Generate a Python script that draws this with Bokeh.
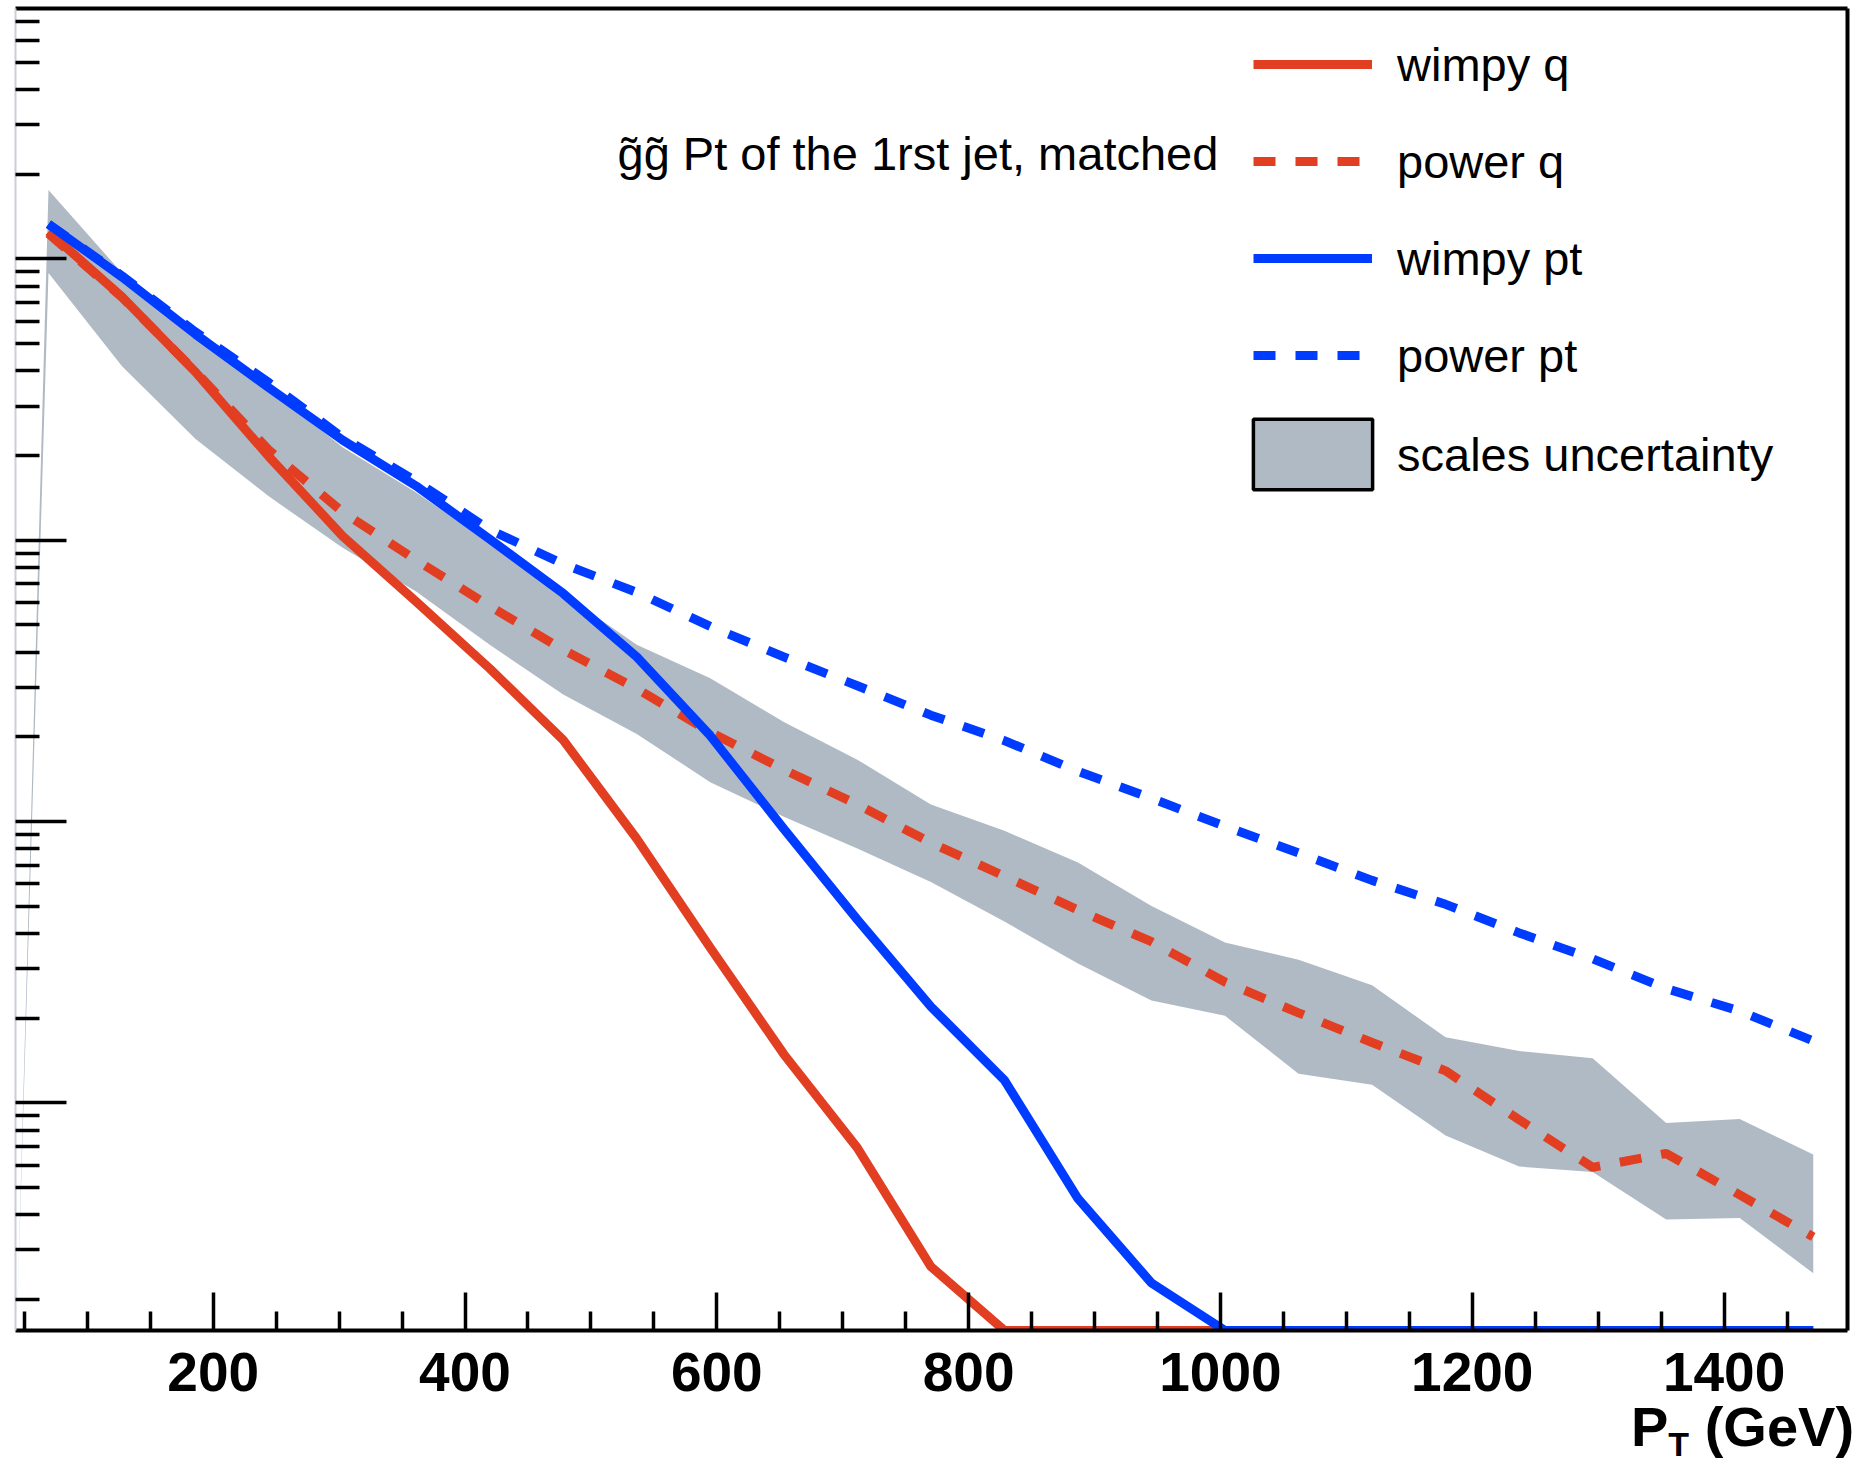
from bokeh.plotting import figure
from bokeh.models import (Range1d, FixedTicker, LinearAxis, Legend, LegendItem, Label, Div)
from bokeh.embed import file_html
from bokeh.resources import INLINE

# ---------------- data ----------------
pt_centers = [69.2, 127.6, 186.0, 244.4, 302.8, 361.2, 419.6, 478.0, 536.4, 594.8,
              653.2, 711.6, 770.0, 828.4, 886.8, 945.2, 1003.6, 1062.0, 1120.4,
              1178.8, 1237.2, 1295.6, 1354.0, 1412.4, 1470.8]

wimpy_q = [12500, 7330, 3960, 1980, 1035, 605, 350, 195, 86.9, 35.6, 14.9, 6.92, 2.62,
           0, 0, 0, 0, 0, 0, 0, 0, 0, 0, 0, 0]
power_q = [12300, 7300, 3980, 2090, 1260, 851, 583, 408, 297, 208, 153, 115, 84.1,
           64.0, 48.5, 37.4, 26.9, 20.9, 16.4, 13.0, 8.71, 5.90, 6.61, 4.71, 3.34]
wimpy_pt = [13300, 8630, 5400, 3480, 2270, 1560, 1010, 647, 385, 202, 94.2, 44.8, 22.0,
            12.05, 4.57, 2.29, 0, 0, 0, 0, 0, 0, 0, 0, 0]
power_pt = [13300, 8710, 5500, 3630, 2320, 1620, 1090, 824, 653, 494, 385, 304, 239,
            194, 151, 121, 96.2, 77.4, 61.8, 50.8, 40.2, 32.5, 25.5, 21.2, 16.6]
scale_hi = [17600, 8910, 5500, 3470, 2140, 1480, 977, 646, 425, 323, 226, 166, 115,
            92.7, 71.6, 50.1, 37.2, 32.3, 26.2, 17.1, 15.3, 14.4, 8.49, 8.77, 6.55]
scale_lo = [8910, 4160, 2290, 1430, 940, 658, 425, 283, 205, 138, 104, 80.2, 61.0,
            44.1, 31.3, 23.1, 20.4, 12.7, 11.6, 7.66, 5.94, 5.68, 3.85, 3.90, 2.48]
band_edge_x = 44.0  # lower-left edge of the uncertainty polygon (drops to zero)

series_labels = ["wimpy q", "power q", "wimpy pt", "power pt", "scales uncertainty"]
title_text = "g\u0303g\u0303 Pt of the 1rst jet, matched"
x_axis_html = ("P<sub style='font-size:34px;line-height:0;vertical-align:-10px'>T</sub>"
               "&nbsp;(GeV)")
x_axis_plain = "PT (GeV)"
x_major_ticks = [200, 400, 600, 800, 1000, 1200, 1400]
x_minor_ticks = [50, 100, 150, 250, 300, 350, 450, 500, 550, 650, 700, 750, 850, 900,
                 950, 1050, 1100, 1150, 1250, 1300, 1350, 1450]
y_major_ticks = [10, 100, 1000, 10000]

X_MIN, X_MAX = 43, 1498
Y_MIN, Y_MAX = 1.552, 77700

RED = "#E23E22"
BLUE = "#003CFF"
BAND = "#B0BAC4"
FONT = "Liberation Sans"

y_minor_ticks = []
for e in range(0, 5):
    for k in range(2, 10):
        v = k * 10 ** e
        if Y_MIN < v < Y_MAX:
            y_minor_ticks.append(v)


def floor_zero(vals):
    return [v if v > 0 else Y_MIN for v in vals]


p = figure(width=1859, height=1465, output_backend="svg", toolbar_location=None,
           x_range=Range1d(X_MIN, X_MAX), y_range=Range1d(Y_MIN, Y_MAX),
           y_axis_type="log",
           min_border_left=15, min_border_right=12, min_border_top=8,
           min_border_bottom=135)
p.outline_line_color = None
p.xgrid.visible = False
p.ygrid.visible = False
p.background_fill_color = "white"
p.border_fill_color = "white"

# uncertainty band
band_x = [band_edge_x] + pt_centers + pt_centers[::-1]
band_y = [Y_MIN] + scale_hi + scale_lo[::-1]
p.patch(band_x, band_y, fill_color=BAND, line_color=None)
# legend proxy for the band (hidden in the plot, outlined in the legend)
r_box = p.patch(band_x, band_y, fill_color=BAND, line_color="black", line_width=3.5,
                visible=False)

lw = 9
dash = "22 20"
r_wq = p.line(pt_centers, floor_zero(wimpy_q), line_color=RED, line_width=lw)
r_pq = p.line(pt_centers, floor_zero(power_q), line_color=RED, line_width=lw,
              line_dash=dash)
r_wp = p.line(pt_centers, floor_zero(wimpy_pt), line_color=BLUE, line_width=lw)
r_pp = p.line(pt_centers, floor_zero(power_pt), line_color=BLUE, line_width=lw,
              line_dash=dash)

# axes
xa = p.xaxis[0]
xa.ticker = FixedTicker(ticks=x_major_ticks, minor_ticks=x_minor_ticks)
xa.axis_line_width = 4
xa.axis_line_color = "black"
xa.major_tick_in = 38
xa.major_tick_out = 0
xa.minor_tick_in = 19
xa.minor_tick_out = 0
xa.major_tick_line_width = 3.5
xa.minor_tick_line_width = 3.5
xa.major_label_text_font = FONT
xa.major_label_text_font_style = "bold"
xa.major_label_text_font_size = "55px"
xa.major_label_text_color = "black"
xa.major_label_standoff = 22

ya = p.yaxis[0]
ya.ticker = FixedTicker(ticks=y_major_ticks, minor_ticks=y_minor_ticks)
ya.axis_line_width = 2
ya.axis_line_color = "#C8D0D8"
ya.major_tick_in = 51
ya.major_tick_out = 0
ya.minor_tick_in = 24
ya.minor_tick_out = 0
ya.major_tick_line_width = 3.5
ya.minor_tick_line_width = 3.5
ya.major_label_text_font_size = "1px"
ya.major_label_text_color = None
ya.major_label_standoff = 0

for side in ("above", "right"):
    ax = LinearAxis(ticker=FixedTicker(ticks=[]), axis_line_width=4,
                    axis_line_color="black", major_tick_in=0, major_tick_out=0,
                    minor_tick_in=0, minor_tick_out=0,
                    major_label_text_font_size="1px", major_label_standoff=0)
    p.add_layout(ax, side)

# legends
leg1 = Legend(items=[LegendItem(label=series_labels[0], renderers=[r_wq]),
                     LegendItem(label=series_labels[1], renderers=[r_pq]),
                     LegendItem(label=series_labels[2], renderers=[r_wp]),
                     LegendItem(label=series_labels[3], renderers=[r_pp])],
              location=(1238, 940), glyph_width=119, glyph_height=70,
              label_standoff=25, spacing=27, padding=0, margin=0,
              border_line_color=None, background_fill_alpha=0,
              label_text_font=FONT, label_text_font_size="47px",
              label_text_color="black")
leg2 = Legend(items=[LegendItem(label=series_labels[4], renderers=[r_box])],
              location=(1223, 832), glyph_width=149, glyph_height=88,
              label_standoff=10, padding=0, margin=0,
              border_line_color=None, background_fill_alpha=0,
              label_text_font=FONT, label_text_font_size="47px",
              label_text_color="black")
p.add_layout(leg1)
p.add_layout(leg2)

# title text inside the frame
p.add_layout(Label(x=602, y=1177, x_units="screen", y_units="screen", text=title_text,
                   text_font=FONT, text_font_size="47px", text_baseline="alphabetic",
                   text_align="left", text_color="black"))

# x-axis title (P_T with a subscript) below the axis, at the bottom-right corner
if "elements" in p.properties():
    axis_title = Div(text=x_axis_html, styles={
        "position": "absolute", "left": "1631px", "top": "1395px",
        "white-space": "nowrap",
        "font-family": "'Liberation Sans', Arial, sans-serif", "font-weight": "bold",
        "font-size": "56px", "line-height": "1.15", "color": "black", "margin": "0",
        "padding": "0"})
    p.elements = [axis_title]
else:
    xa.axis_label = x_axis_plain
    xa.axis_label_align = "right"
    xa.axis_label_text_font = FONT
    xa.axis_label_text_font_style = "bold"
    xa.axis_label_text_font_size = "56px"
    xa.axis_label_standoff = -10

open("out.html", "w").write(file_html(p, INLINE))
